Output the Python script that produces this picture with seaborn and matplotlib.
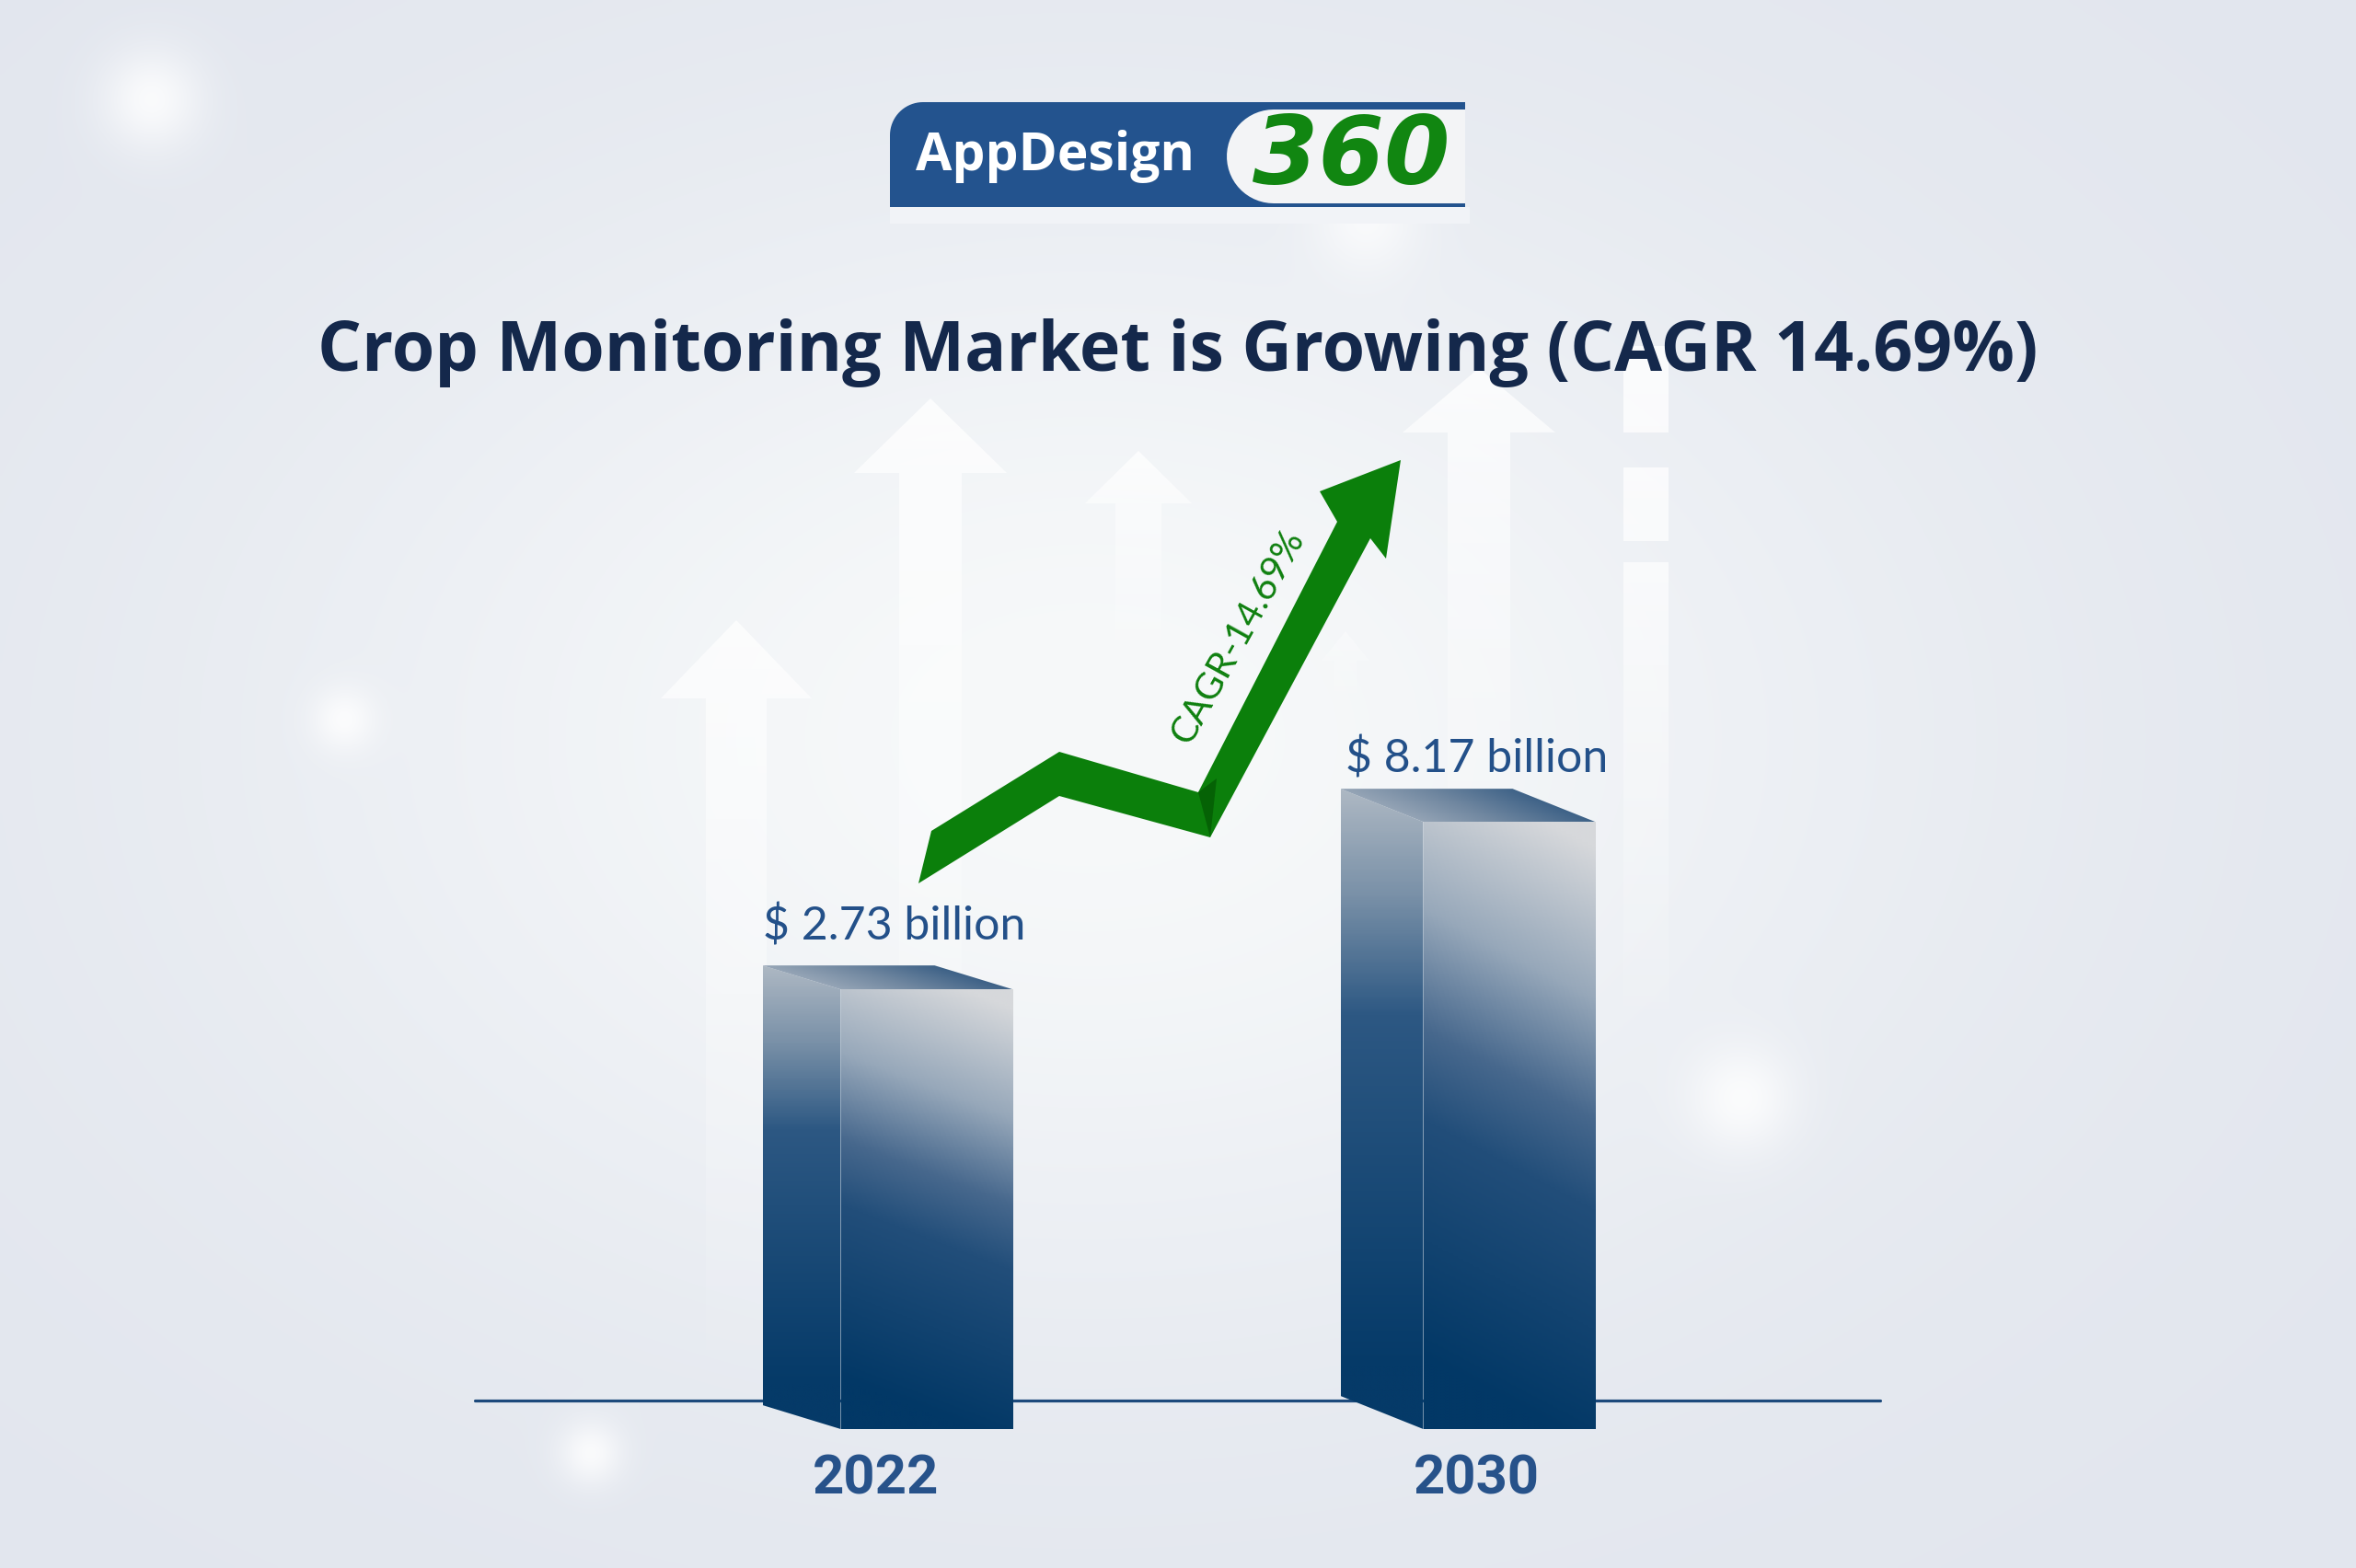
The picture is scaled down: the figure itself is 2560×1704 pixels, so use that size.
import numpy as np
import pandas as pd
import matplotlib
matplotlib.use("Agg")
import matplotlib.pyplot as plt
import seaborn as sns
from matplotlib.patches import Polygon, Rectangle
from matplotlib.colors import LinearSegmentedColormap, to_rgb

# ---- data ----
YEARS = ["2022", "2030"]
MARKET_SIZE = [2.73, 8.17]          # USD billion
VALUE_LABELS = ["$ 2.73 billion", "$ 8.17 billion"]
CAGR_TEXT = "CAGR-14.69%"
TITLE = "Crop Monitoring Market is Growing (CAGR 14.69%)"

# ---- layout (pixels of the 2560x1704 canvas) ----
W, H, DPI = 2560, 1704, 100
X0_PX, X_UNIT = 1007, 633           # x=0 position and px per category
FLOOR_PX, K = 1553, 33.46           # bar floor (from top) and px per billion
FLOOR = -11.55                      # truncated value axis starts here
BAR_W = 187 / X_UNIT
DEPTH = [(-85, 26), (-90, 36)]      # 3d side offset per bar, display px
YEAR_DX = [-55, -36]

XLIM = (-X0_PX / X_UNIT, (W - X0_PX) / X_UNIT)
YLIM = (FLOOR - (H - FLOOR_PX) / K, FLOOR + FLOOR_PX / K)

sns.set_theme(style="white")
plt.rcParams['font.family'] = ['Open Sans', 'DejaVu Sans']

fig = plt.figure(figsize=(W / DPI, H / DPI), dpi=DPI)

# ---------- background (pixel coords, y down) ----------
bg = fig.add_axes([0, 0, 1, 1], zorder=0)
yy, xx = np.mgrid[0:H:4, 0:W:4].astype(float)
edge = np.array(to_rgb('#e2e6ee'))
center = np.array(to_rgb('#f7f9fa'))
d2 = ((xx - 1180) / 1050) ** 2 + ((yy - 800) / 720) ** 2
t = np.exp(-d2 * 1.3)[..., None]
img = edge + (center - edge) * t
for bx, by, br, a in [(163, 106, 38, 0.8), (372, 780, 24, 0.8), (640, 1577, 24, 0.8),
                      (1890, 1192, 40, 0.8), (1483, 237, 40, 0.7)]:
    g = np.exp(-(((xx - bx) ** 2 + (yy - by) ** 2) / (2 * br ** 2)))[..., None]
    img = img + (1 - img) * g * a
bg.imshow(np.clip(img, 0, 1), extent=(0, W, H, 0), origin='upper',
          aspect='auto', interpolation='bilinear', zorder=0)


def shade(axis, verts, colors, zorder, flipped=False, res=220):
    """fill a polygon with an image (colors: function u,v -> rgba array)"""
    verts = np.asarray(verts, float)
    (x0, y0), (x1, y1) = verts.min(0), verts.max(0)
    u, v = np.meshgrid(np.linspace(0, 1, res), np.linspace(0, 1, res))
    poly = Polygon(verts, closed=True, facecolor='none', edgecolor='none')
    axis.add_patch(poly)
    ext = (x0, x1, y1, y0) if flipped else (x0, x1, y0, y1)
    im = axis.imshow(colors(u, v), extent=ext, origin='upper', aspect='auto',
                     interpolation='bilinear', zorder=zorder)
    im.set_clip_path(poly)


def white_fade(a_top, a_bot):
    def f(u, v):
        out = np.ones(u.shape + (4,))
        out[..., 3] = a_top + (a_bot - a_top) * v ** 0.8
        return out
    return f


# faint white arrows behind the chart
for cx, tip, base, hw, sw, bot, a in [(800, 674, 759, 82, 33, 1530, 0.75),
                                      (1011, 433, 514, 83, 34, 1350, 0.8),
                                      (1237, 490, 547, 58, 25, 740, 0.8),
                                      (1607, 400, 470, 83, 34, 1050, 0.8),
                                      (1462, 686, 718, 26, 12, 780, 0.4)]:
    verts = [(cx, tip), (cx + hw, base), (cx + sw, base), (cx + sw, bot),
             (cx - sw, bot), (cx - sw, base), (cx - hw, base)]
    shade(bg, verts, white_fade(a, 0.0), 1, flipped=True)
for top, bot, a0, a1 in [(376, 470, 0.8, 0.75), (508, 588, 0.75, 0.7), (611, 1150, 0.7, 0.0)]:
    shade(bg, [(1764, top), (1813, top), (1813, bot), (1764, bot)],
          white_fade(a0, a1), 1, flipped=True)

# green growth arrow
green_arrow = [(998, 960), (1012, 903), (1151, 817), (1302, 861), (1453, 567),
               (1434, 534), (1522, 500), (1506, 607), (1489, 585), (1315, 910),
               (1151, 865)]
bg.add_patch(Polygon(green_arrow, closed=True, facecolor='#0b7f0b',
                     edgecolor='none', zorder=3))
bg.add_patch(Polygon([(1302, 861), (1315, 910), (1322, 846)], closed=True,
                     facecolor='#056205', edgecolor='none', zorder=3))
bg.text(1345, 692, CAGR_TEXT, rotation=61, rotation_mode='anchor',
        ha='center', va='center', fontsize=29, color='#0f800f',
        family=['Lato', 'DejaVu Sans'], zorder=4)

# logo
theta = np.linspace(np.pi, 1.5 * np.pi, 20)
r = 36
logo = [(967, 225)] + [(967 + r + r * np.cos(a), 111 + r + r * np.sin(a)) for a in theta] \
    + [(1592, 111), (1592, 225)]
bg.add_patch(Polygon(logo, closed=True, facecolor='#23538e', edgecolor='none', zorder=3))
bg.add_patch(Rectangle((967, 225), 630, 18, facecolor='#f1f3f7', edgecolor='none', zorder=3))
r = 51
pill = [(1592, 119)] + [(1384 + r * np.cos(a), 170 + r * np.sin(a))
                        for a in np.linspace(1.5 * np.pi, 0.5 * np.pi, 30)] + [(1592, 221)]
bg.add_patch(Polygon(pill, closed=True, facecolor='#f3f4f6', edgecolor='none', zorder=3))
bg.text(1146, 170, "AppDesign", ha='center', va='center', fontsize=41,
        weight='bold', color='white', zorder=4)
bg.text(1468, 172, "360", ha='center', va='center', fontsize=74,
        weight='bold', style='italic', color='#118611',
        family=['DejaVu Sans'], zorder=4)

bg.set_xlim(0, W)
bg.set_ylim(H, 0)
bg.axis('off')

# ---------- bars ----------
ax = fig.add_axes([0, 0, 1, 1], zorder=2)
ax.patch.set_alpha(0)
df = pd.DataFrame({"year": YEARS, "size": MARKET_SIZE})
sns.barplot(data=df, x="year", y="size", ax=ax, width=BAR_W, color='#0d3f6f',
            saturation=1, err_kws={'linewidth': 0})
ax.set_xlim(*XLIM)
ax.set_ylim(*YLIM)

front_cmap = LinearSegmentedColormap.from_list(
    'front', [(0, '#d6d8db'), (0.25, '#97a8ba'), (0.45, '#47688d'),
              (0.6, '#224e7a'), (1, '#023866')])
side_cmap = LinearSegmentedColormap.from_list(
    'side', [(0, '#bcc3cb'), (0.22, '#7a91a8'), (0.42, '#2d5883'), (1, '#053a68')])
top_cmap = LinearSegmentedColormap.from_list(
    'top', [(0, '#b9c1cb'), (0.5, '#7087a0'), (1, '#1b4876')])

ax.axhline(FLOOR + 31 / K, xmin=516 / W, xmax=2043 / W, color='#1d4a7c',
           lw=2.3, zorder=1)

to_data = ax.transData.inverted()
for i, (bar, val) in enumerate(zip(ax.patches, MARKET_SIZE)):
    bar.set_y(FLOOR)
    bar.set_height(val - FLOOR)
    bar.set_facecolor('none')
    bar.set_edgecolor('none')
    x0, x1 = bar.get_x(), bar.get_x() + bar.get_width()
    (fl, fb), (fr, ft) = ax.transData.transform([(x0, FLOOR), (x1, val)])
    dx, dy = DEPTH[i]
    front = [(fl, fb), (fl, ft), (fr, ft), (fr, fb)]
    side = [(fl, fb), (fl, ft), (fl + dx, ft + dy), (fl + dx, fb + dy)]
    top = [(fl, ft), (fr, ft), (fr + dx, ft + dy), (fl + dx, ft + dy)]
    shade(ax, to_data.transform(side),
          lambda u, v: side_cmap(np.clip(v * 1.05 + 0.05, 0, 1)), 3)
    shade(ax, to_data.transform(front),
          lambda u, v: front_cmap(np.clip(v - 0.15 * u + 0.11, 0, 1)), 3)
    shade(ax, to_data.transform(top),
          lambda u, v: top_cmap(np.clip(0.8 * u + 0.25 * (1 - v), 0, 1)), 3)

    ax.annotate(VALUE_LABELS[i], xy=(i, val), xytext=(-35, 68),
                textcoords='offset pixels', ha='center', va='center',
                fontsize=36, color='#235089', family=['Lato', 'DejaVu Sans'],
                zorder=5)
    ax.annotate(YEARS[i], xy=(i, FLOOR), xytext=(YEAR_DX[i], -54),
                textcoords='offset pixels', ha='center', va='center',
                fontsize=43, weight='bold', color='#27528a',
                family=['Roboto', 'DejaVu Sans'], zorder=5)

ax.set_xlim(*XLIM)
ax.set_ylim(*YLIM)
ax.axis('off')

fig.text(0.5, 1 - 403 / H, TITLE, ha='center', va='baseline', fontsize=54.2,
         weight='bold', color='#14284b', family=['Open Sans', 'DejaVu Sans'])

fig.savefig('out.png', dpi=DPI)
